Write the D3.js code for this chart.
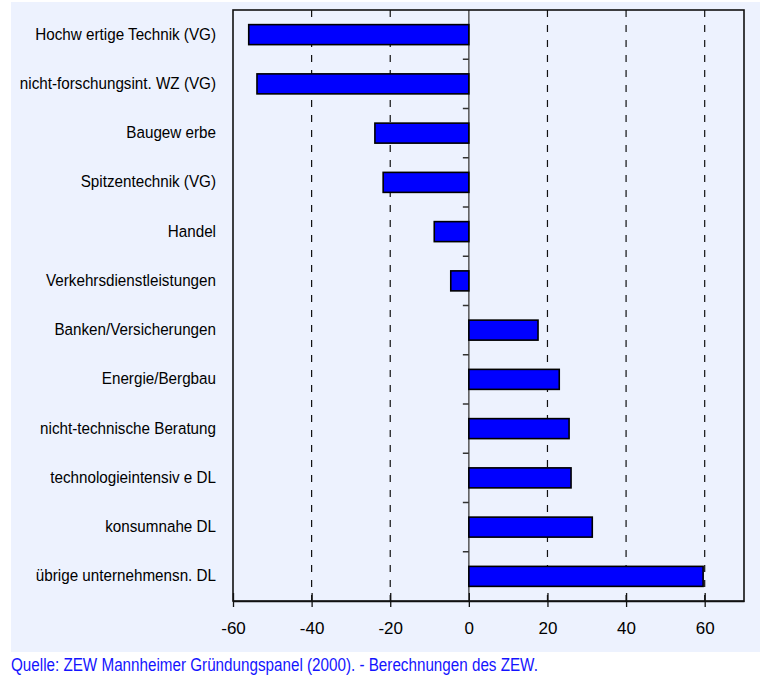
<!DOCTYPE html>
<html>
<head>
<meta charset="utf-8">
<script src="https://cdn.jsdelivr.net/npm/d3@7"></script>
<style>
  html, body { margin: 0; padding: 0; background: #ffffff; }
  svg { display: block; }
</style>
</head>
<body>
<svg id="chart" width="760" height="675"></svg>
<script>
const categories = [
  "Hochw ertige Technik (VG)",
  "nicht-forschungsint. WZ (VG)",
  "Baugew erbe",
  "Spitzentechnik (VG)",
  "Handel",
  "Verkehrsdienstleistungen",
  "Banken/Versicherungen",
  "Energie/Bergbau",
  "nicht-technische Beratung",
  "technologieintensiv e DL",
  "konsumnahe DL",
  "übrige unternehmensn. DL"
];
const values = [-56.0, -53.9, -23.9, -21.8, -8.8, -4.6, 17.6, 23.0, 25.5, 26.0, 31.4, 59.6];
const tickValues = [-60, -40, -20, 0, 20, 40, 60];
const gridValues = [-40, -20, 20, 40, 60];
const sourceText = "Quelle: ZEW Mannheimer Gründungspanel (2000). - Berechnungen des ZEW.";

const FONT = "'Liberation Sans', Arial, sans-serif";
const svg = d3.select("#chart");

// background panel
svg.append("rect").attr("x", 11).attr("y", 2).attr("width", 749).attr("height", 650)
  .attr("fill", "#edf2fe");

const pLeft = 233, pRight = 744, pTop = 10, pBottom = 601;
const x = d3.scaleLinear().domain([-60, 70]).range([pLeft, pRight]);
const y = d3.scaleBand().domain(categories).range([pTop, pBottom])
  .paddingInner(0.594).paddingOuter(0.297);

// gridlines
svg.append("g").selectAll("line").data(gridValues).join("line")
  .attr("x1", d => x(d)).attr("x2", d => x(d))
  .attr("y1", pTop).attr("y2", pBottom)
  .attr("stroke", "#111").attr("stroke-width", 1.2)
  .attr("stroke-dasharray", "7,8");

// zero line
svg.append("line").attr("x1", x(0)).attr("x2", x(0)).attr("y1", pTop).attr("y2", pBottom)
  .attr("stroke", "#555").attr("stroke-width", 1.5);

// category ticks on zero line
const step = y.step();
const boundaries = d3.range(1, categories.length).map(i => y(categories[i]) - y.paddingInner() * step / 2);
svg.append("g").selectAll("line").data(boundaries).join("line")
  .attr("x1", x(0) - 6).attr("x2", x(0))
  .attr("y1", d => d).attr("y2", d => d)
  .attr("stroke", "#333").attr("stroke-width", 1.5);

// bars
svg.append("g").selectAll("rect").data(values).join("rect")
  .attr("x", d => x(Math.min(0, d)))
  .attr("y", (d, i) => y(categories[i]))
  .attr("width", d => Math.abs(x(d) - x(0)))
  .attr("height", y.bandwidth())
  .attr("fill", "#0000ff")
  .attr("stroke", "#000").attr("stroke-width", 1.6);

// box
svg.append("rect").attr("x", pLeft).attr("y", pTop).attr("width", pRight - pLeft).attr("height", pBottom - pTop)
  .attr("fill", "none").attr("stroke", "#111").attr("stroke-width", 1.6);

// bottom axis
const axis = d3.axisBottom(x).tickValues(tickValues).tickSize(6).tickSizeOuter(0).tickFormat(d => String(d));
const ax = svg.append("g").attr("transform", `translate(0,${pBottom})`).call(axis);
ax.select(".domain").attr("stroke", "#111").attr("stroke-width", 1.6);
ax.selectAll(".tick line").attr("y1", -8).attr("y2", 6).attr("stroke", "#111").attr("stroke-width", 1.3);
ax.selectAll(".tick text").attr("y", 32.5).attr("dy", 0)
  .attr("font-family", FONT).attr("font-size", 17).attr("fill", "#000");

// category labels (condensed look)
svg.append("g").selectAll("text").data(categories).join("text")
  .attr("transform", d => `translate(216,${y(d) + y.bandwidth() / 2 + 5}) scale(0.885,1)`)
  .attr("text-anchor", "end")
  .attr("font-family", FONT).attr("font-size", 17.2).attr("fill", "#000")
  .text(d => d);

// source
svg.append("text").attr("transform", "translate(11,671) scale(0.87,1)")
  .attr("font-family", FONT).attr("font-size", 17.5).attr("fill", "#1414ff")
  .text(sourceText);
</script>
</body>
</html>
